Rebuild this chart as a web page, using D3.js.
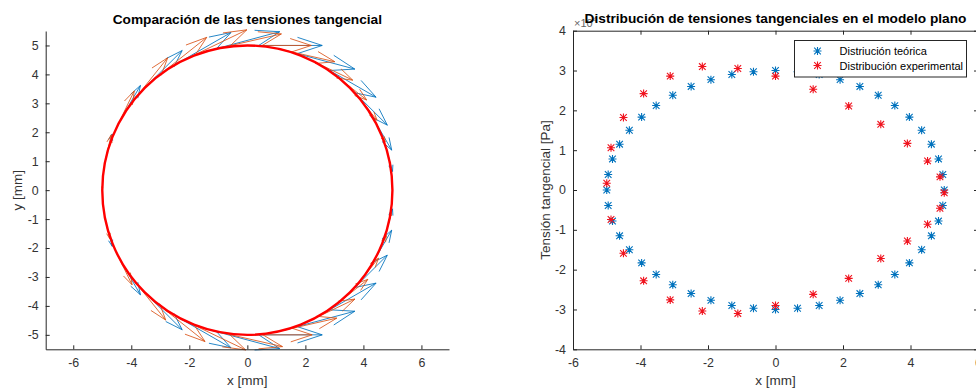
<!DOCTYPE html>
<html>
<head>
<meta charset="utf-8">
<script src="https://cdn.jsdelivr.net/npm/d3@7"></script>
<style>
  body { margin: 0; background: #fff; }
  svg { display: block; }
  text { font-family: "Liberation Sans", Arial, sans-serif; }
</style>
</head>
<body>
<svg id="fig" width="976" height="392"></svg>
<script>
// Nodos del contorno (ángulo en grados) y tensión tangencial (x 1e4 Pa)
const thetaTeo = [0, 7.5, 15, 22.5, 30, 37.5, 45, 52.5, 60, 67.5, 75, 82.5,
  90, 97.5, 105, 112.5, 120, 127.5, 135, 142.5, 150, 157.5, 165, 172.5,
  180, 187.5, 195, 202.5, 210, 217.5, 225, 232.5, 240, 247.5, 255, 262.5,
  270, 277.5, 285, 292.5, 300, 307.5, 315, 322.5, 330, 337.5, 345, 352.5];
const tauTeo = [0, 0.39, 0.78, 1.15, 1.50, 1.83, 2.12, 2.38, 2.60, 2.77, 2.90, 2.97,
  3.00, 2.97, 2.90, 2.77, 2.60, 2.38, 2.12, 1.83, 1.50, 1.15, 0.78, 0.39,
  0, -0.39, -0.78, -1.15, -1.50, -1.83, -2.12, -2.38, -2.60, -2.77, -2.90, -2.97,
  -3.00, -2.97, -2.90, -2.77, -2.60, -2.38, -2.12, -1.83, -1.50, -1.15, -0.78, -0.39];

const thetaExp = [0, 12.9, 25.7, 38.6, 51.4, 64.3, 77.1, 90, 102.9, 115.7, 128.6, 141.4,
  154.3, 167.1, 180, 192.9, 205.7, 218.6, 231.4, 244.3, 257.1, 270, 282.9, 295.7,
  308.6, 321.4, 334.3, 347.1];
const tauExp = [-0.07, 0.33, 0.73, 1.17, 1.65, 2.11, 2.53, 2.86, 3.05, 3.10, 2.86, 2.42,
  1.82, 1.06, 0.17, -0.74, -1.59, -2.28, -2.76, -3.04, -3.10, -2.90, -2.62, -2.22,
  -1.72, -1.28, -0.86, -0.46];

const xTicksLeft = [-6, -4, -2, 0, 2, 4, 6];
const yTicksLeft = [-5, -4, -3, -2, -1, 0, 1, 2, 3, 4, 5];
const xTicksRight = [-6, -4, -2, 0, 2, 4, 6];
const yTicksRight = [-4, -3, -2, -1, 0, 1, 2, 3, 4];

const titleLeft = "Comparación de las tensiones tangencial";
const titleRight = "Distribución de tensiones tangenciales en el modelo plano";
const legendLabels = ["Distriución teórica", "Distribución experimental"];

const R = 5;                 // radio del agujero [mm]
const quiverScaleTeo = 0.86; // mm de flecha por 1e4 Pa (teórica)
const quiverScaleExp = 0.77; // mm de flecha por 1e4 Pa (experimental)

const C_TEO = "#0072BD", C_EXP_Q = "#D95319", C_EXP = "#F0131E", AX = "#262626";

const svg = d3.select("#fig");
const rad = d => d * Math.PI / 180;

function styleAxis(g) {
  g.selectAll("path.domain").attr("stroke", AX).attr("stroke-width", 1);
  g.selectAll(".tick line").attr("stroke", AX).attr("stroke-width", 1);
  g.selectAll(".tick text").attr("fill", "#333").attr("font-size", 12.4)
    .attr("font-family", '"Liberation Sans", Arial, sans-serif');
}

// ---------- Panel izquierdo: flechas tangenciales sobre el contorno ----------
const xL = d3.scaleLinear().domain([-6.95, 6.95]).range([45.7, 449]);
const yL = d3.scaleLinear().domain([-5.5, 5.5]).range([349.3, 31]);

const gL = svg.append("g");

function quiverPath(thDeg, tau, s) {
  const t = rad(thDeg);
  const x0 = R * Math.cos(t), y0 = R * Math.sin(t);
  const u = s * tau * Math.sin(t);
  const v = -s * tau * Math.cos(t);
  const a = 0.33, b = 0.33;
  const xt = x0 + u, yt = y0 + v;
  const h1x = xt - a * (u + b * v), h1y = yt - a * (v - b * u);
  const h2x = xt - a * (u - b * v), h2y = yt - a * (v + b * u);
  return `M${xL(x0)},${yL(y0)}L${xL(xt)},${yL(yt)}` +
         `M${xL(h1x)},${yL(h1y)}L${xL(xt)},${yL(yt)}L${xL(h2x)},${yL(h2y)}`;
}

// el campo teórico se dibuja en uno de cada dos nodos (cada 15°)
const quiverTeo = d3.zip(thetaTeo, tauTeo).filter((d, i) => i % 2 === 0);

gL.append("g").selectAll("path")
  .data(quiverTeo).join("path")
  .attr("d", d => quiverPath(d[0], d[1], quiverScaleTeo))
  .attr("fill", "none").attr("stroke", C_TEO).attr("stroke-width", 1)
  .attr("stroke-opacity", 0.85);

gL.append("g").selectAll("path")
  .data(d3.zip(thetaExp, tauExp)).join("path")
  .attr("d", d => quiverPath(d[0], d[1], quiverScaleExp))
  .attr("fill", "none").attr("stroke", C_EXP_Q).attr("stroke-width", 1)
  .attr("stroke-opacity", 0.85);

// contorno del agujero
gL.append("ellipse")
  .attr("cx", xL(0)).attr("cy", yL(0))
  .attr("rx", xL(R) - xL(0)).attr("ry", yL(0) - yL(R))
  .attr("fill", "none").attr("stroke", "#ff0000").attr("stroke-width", 2.4);

gL.append("g").attr("transform", `translate(0,${yL(-5.5)})`)
  .call(d3.axisBottom(xL).tickValues(xTicksLeft).tickFormat(d => String(d))
    .tickSizeInner(-4).tickSizeOuter(0).tickPadding(9))
  .call(styleAxis);
gL.append("g").attr("transform", `translate(${xL(-6.95)},0)`)
  .call(d3.axisLeft(yL).tickValues(yTicksLeft).tickFormat(d => String(d))
    .tickSizeInner(-4).tickSizeOuter(0).tickPadding(7))
  .call(styleAxis);

gL.append("text").attr("x", xL(0)).attr("y", 23.5).attr("text-anchor", "middle")
  .attr("font-size", 13.7).attr("font-weight", "bold").attr("fill", "#000").text(titleLeft);
gL.append("text").attr("x", xL(0)).attr("y", 385).attr("text-anchor", "middle")
  .attr("font-size", 13.5).attr("fill", "#333").text("x [mm]");
gL.append("text").attr("transform", `translate(22,${yL(0)}) rotate(-90)`)
  .attr("text-anchor", "middle").attr("font-size", 13.5).attr("fill", "#333").text("y [mm]");

// ---------- Panel derecho: tensión tangencial frente a x ----------
const xR = d3.scaleLinear().domain([-6, 6]).range([573, 978]);
const yR = d3.scaleLinear().domain([-4, 4]).range([349.3, 30.7]);
const gR = svg.append("g");

gR.append("g").attr("transform", `translate(0,${yR(-4)})`)
  .call(d3.axisBottom(xR).tickValues(xTicksRight).tickFormat(d => String(d))
    .tickSizeInner(-4).tickSizeOuter(0).tickPadding(9))
  .call(styleAxis);
gR.append("g").attr("transform", `translate(0,${yR(4)})`)
  .call(d3.axisTop(xR).tickValues(xTicksRight).tickFormat("")
    .tickSizeInner(-4).tickSizeOuter(0))
  .call(styleAxis);
gR.append("g").attr("transform", `translate(${xR(-6)},0)`)
  .call(d3.axisLeft(yR).tickValues(yTicksRight).tickFormat(d => String(d))
    .tickSizeInner(-4).tickSizeOuter(0).tickPadding(7))
  .call(styleAxis);
gR.append("g").attr("transform", `translate(${xR(6)},0)`)
  .call(d3.axisRight(yR).tickValues(yTicksRight).tickFormat("")
    .tickSizeInner(-4).tickSizeOuter(0))
  .call(styleAxis);

function asterisk(sel, color) {
  const r = 4, d = 3.3;
  sel.append("path")
    .attr("d", `M${-r},0L${r},0M0,${-r}L0,${r}M${-d},${-d}L${d},${d}M${-d},${d}L${d},${-d}`)
    .attr("fill", "none").attr("stroke", color).attr("stroke-width", 1.1);
}

gR.append("g").selectAll("g")
  .data(d3.zip(thetaTeo, tauTeo)).join("g")
  .attr("transform", d => `translate(${xR(R * Math.cos(rad(d[0])))},${yR(d[1])})`)
  .each(function () { asterisk(d3.select(this), C_TEO); });

gR.append("g").selectAll("g")
  .data(d3.zip(thetaExp, tauExp)).join("g")
  .attr("transform", d => `translate(${xR(R * Math.cos(rad(d[0])))},${yR(d[1])})`)
  .each(function () { asterisk(d3.select(this), C_EXP); });

// factor de escala del eje y
const expo = gR.append("text").attr("x", 574).attr("y", 27)
  .attr("font-size", 11).attr("fill", "#666");
expo.append("tspan").text("×10");
expo.append("tspan").attr("dy", -5).attr("font-size", 8).text("4");

gR.append("text").attr("x", xR(0)).attr("y", 23).attr("text-anchor", "middle")
  .attr("font-size", 13.7).attr("font-weight", "bold").attr("fill", "#000").text(titleRight);
gR.append("text").attr("x", xR(0)).attr("y", 385).attr("text-anchor", "middle")
  .attr("font-size", 13.5).attr("fill", "#333").text("x [mm]");
gR.append("text").attr("transform", `translate(550,${yR(0)}) rotate(-90)`)
  .attr("text-anchor", "middle").attr("font-size", 13.5).attr("fill", "#333")
  .text("Tensión tangencial [Pa]");

// leyenda
const leg = gR.append("g").attr("transform", "translate(794.5,40.5)");
leg.append("rect").attr("width", 172).attr("height", 36.5)
  .attr("fill", "#fff").attr("stroke", AX).attr("stroke-width", 1);
const colors = [C_TEO, C_EXP];
legendLabels.forEach((lab, i) => {
  const row = leg.append("g").attr("transform", `translate(0,${10.5 + i * 14.5})`);
  asterisk(row.append("g").attr("transform", "translate(23,0)"), colors[i]);
  row.append("text").attr("x", 45).attr("y", 4).attr("font-size", 11)
    .attr("fill", "#000").text(lab);
});
</script>
</body>
</html>
